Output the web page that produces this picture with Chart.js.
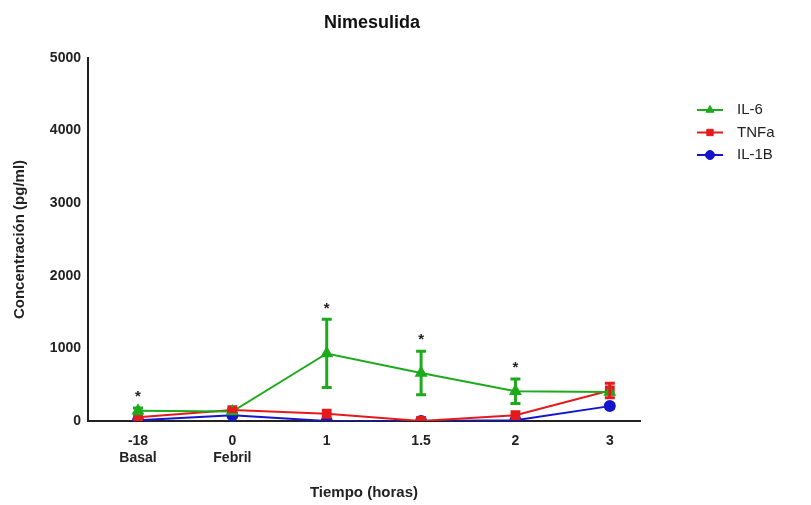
<!DOCTYPE html>
<html>
<head>
<meta charset="utf-8">
<script src="https://cdn.jsdelivr.net/npm/chart.js@4.4.0/dist/chart.umd.min.js"></script>
<style>
  html, body { margin: 0; padding: 0; background: #fff; }
  #wrap { width: 811px; height: 505px; }
</style>
</head>
<body>
<div id="wrap"><canvas id="myChart"></canvas></div>
<script>
// Categories (time points) and their tick labels
const timeLabels = [["-18", "Basal"], ["0", "Febril"], "1", "1.5", "2", "3"];

// Mean concentrations (pg/ml)
const il6 = [140, 130, 930, 660, 410, 400];
const tnfa = [50, 150, 100, 0, 80, 420];
const il1b = [10, 80, 0, 0, 10, 205];

// Error bars (+/- SEM)
const il6Err = [40, 0, 470, 300, 170, 0];
const tnfaErr = [0, 20, 0, 0, 0, 100];
const il1bErr = [0, 0, 0, 0, 0, 30];

// Points marked with significance asterisk (IL-6)
const starPoints = [0, 2, 3, 4];

const green = "#1daa1d";
const red = "#e41a1c";
const blue = "#1515cc";
const font = "Liberation Sans, Arial, sans-serif";

function toPoints(values) {
    return values.map((v, i) => ({ x: i, y: v }));
}

// Draws the vertical error bars with caps
const errorBars = {
    id: "errorBars",
    afterDatasetsDraw(chart) {
        const ctx = chart.ctx;
        const x = chart.scales.x;
        const y = chart.scales.y;
        chart.data.datasets.forEach(ds => {
            ctx.save();
            ctx.strokeStyle = ds.borderColor;
            ctx.lineWidth = 3;
            ds.errors.forEach((e, i) => {
                if (!e) return;
                const px = x.getPixelForValue(i);
                const top = y.getPixelForValue(ds.data[i].y + e);
                const bot = y.getPixelForValue(Math.max(ds.data[i].y - e, 0));
                ctx.beginPath();
                ctx.moveTo(px, top); ctx.lineTo(px, bot);
                ctx.moveTo(px - 5, top); ctx.lineTo(px + 5, top);
                ctx.moveTo(px - 5, bot); ctx.lineTo(px + 5, bot);
                ctx.stroke();
            });
            ctx.restore();
        });

        // asterisks above IL-6 error bars
        ctx.save();
        ctx.fillStyle = "#222";
        ctx.font = "bold 15px " + font;
        ctx.textAlign = "center";
        ctx.textBaseline = "middle";
        starPoints.forEach(i => {
            const px = x.getPixelForValue(i);
            const top = y.getPixelForValue(il6[i] + il6Err[i]);
            ctx.fillText("*", px, top - 11);
        });
        ctx.restore();
    }
};

// Legend on the right: short line with the marker in the middle
const sideLegend = {
    id: "sideLegend",
    afterDraw(chart) {
        const ctx = chart.ctx;
        chart.data.datasets.forEach((ds, i) => {
            const yy = 110 + i * 22.5;
            ctx.save();
            ctx.strokeStyle = ds.borderColor;
            ctx.fillStyle = ds.borderColor;
            ctx.lineWidth = 2;
            ctx.beginPath();
            ctx.moveTo(697, yy); ctx.lineTo(723, yy);
            ctx.stroke();
            ctx.lineWidth = 1;
            Chart.helpers.drawPoint(ctx, {
                pointStyle: ds.pointStyle, radius: 4.5, borderWidth: 1
            }, 710, yy);
            ctx.fillStyle = "#222";
            ctx.font = "15px " + font;
            ctx.textBaseline = "middle";
            ctx.fillText(ds.label, 737, yy);
            ctx.restore();
        });
    }
};

function makeDataset(label, values, errors, color, style, radius) {
    return {
        label: label,
        data: toPoints(values),
        errors: errors,
        borderColor: color,
        backgroundColor: color,
        pointBackgroundColor: color,
        pointBorderColor: color,
        pointStyle: style,
        pointRadius: radius,
        borderWidth: 2,
        tension: 0
    };
}

const ctx = document.querySelector("#myChart");

let cytoChart = new Chart(ctx, {
    type: "line",
    data: {
        datasets: [
            makeDataset("IL-6", il6, il6Err, green, "triangle", 5.5),
            makeDataset("TNFa", tnfa, tnfaErr, red, "rect", 5.5),
            makeDataset("IL-1B", il1b, il1bErr, blue, "circle", 5)
        ]
    },
    options: {
        animation: false,
        responsive: true,
        maintainAspectRatio: false,
        layout: { padding: { top: 58, right: 171, bottom: 0, left: 11 } },
        plugins: {
            legend: { display: false },
            tooltip: { enabled: false },
            title: { display: false }
        },
        scales: {
            x: {
                type: "linear",
                min: -0.53,
                max: 5.32,
                afterBuildTicks: scale => {
                    scale.ticks = timeLabels.map((l, i) => ({ value: i }));
                },
                afterFit: scale => { scale.height = 84; },
                border: { color: "#222", width: 2 },
                grid: { display: false, drawTicks: true, tickLength: 6, tickColor: "#222", tickWidth: 2 },
                ticks: {
                    color: "#222",
                    font: { family: font, size: 14, weight: "bold" },
                    padding: 6,
                    callback: value => timeLabels[value]
                },
                title: {
                    display: true,
                    text: "Tiempo (horas)",
                    color: "#222",
                    font: { family: font, size: 15, weight: "bold" },
                    padding: { top: 0, bottom: 3 }
                }
            },
            y: {
                min: 0,
                max: 5000,
                afterFit: scale => { scale.width = 77; },
                border: { color: "#222", width: 2 },
                grid: { display: false, drawTicks: true, tickLength: 6, tickColor: "#222", tickWidth: 2 },
                ticks: {
                    stepSize: 1000,
                    color: "#222",
                    font: { family: font, size: 14, weight: "bold" },
                    padding: 1,
                    callback: value => String(value)
                },
                title: {
                    display: true,
                    text: "Concentración (pg/ml)",
                    color: "#222",
                    font: { family: font, size: 15, weight: "bold" },
                    padding: { top: 0, bottom: 4 }
                }
            }
        }
    },
    plugins: [errorBars, sideLegend, {
        id: "topTitle",
        afterDraw(chart) {
            const c = chart.ctx;
            c.save();
            c.fillStyle = "#111";
            c.font = "bold 18px " + font;
            c.textAlign = "center";
            c.textBaseline = "middle";
            c.fillText("Nimesulida", 372, 23);
            c.restore();
        }
    }]
});
</script>
</body>
</html>
